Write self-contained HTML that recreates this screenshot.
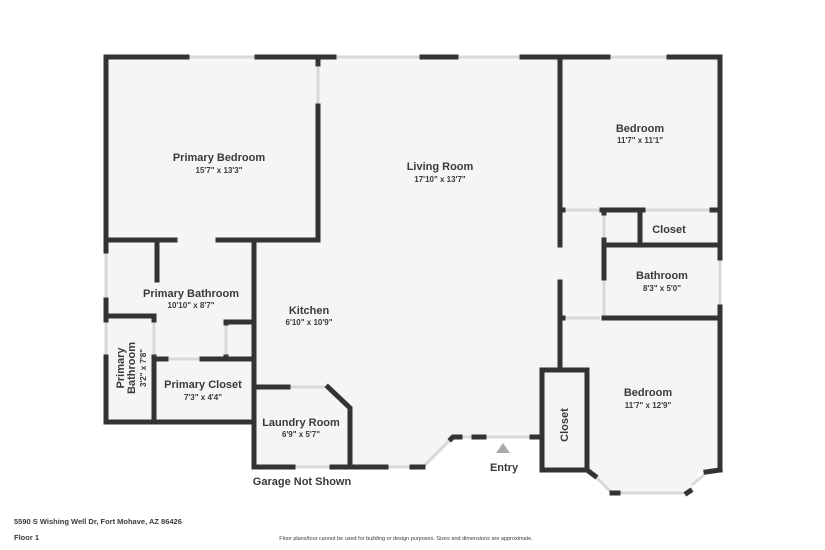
<!DOCTYPE html>
<html><head><meta charset="utf-8"><style>
html,body{margin:0;padding:0;background:#fff;}
svg{display:block;}
text{font-family:"Liberation Sans",sans-serif;fill:#3a3a3a;}
.n{font-size:11px;font-weight:bold;}
.d{font-size:8px;font-weight:bold;}
</style></head><body>
<svg width="825" height="550" viewBox="0 0 825 550" xmlns="http://www.w3.org/2000/svg">
<rect width="825" height="550" fill="#fff"/>
<polygon points="106,57 720,57 720,470 700,472 690,493 612,493 590,470 542,470 542,437 453,437 425,467 254,467 254,422 106,422" fill="#f5f5f5"/>
<!-- openings / windows light -->
<g stroke="#d8d8d8" stroke-width="3" fill="none">
<line x1="187" y1="57" x2="257" y2="57"/>
<line x1="334" y1="57" x2="422" y2="57"/>
<line x1="456" y1="57" x2="522" y2="57"/>
<line x1="608" y1="57" x2="669" y2="57"/>
<line x1="318" y1="67" x2="318" y2="104"/>
<line x1="106" y1="253" x2="106" y2="298"/>
<line x1="106" y1="322" x2="106" y2="355"/>
<line x1="154" y1="322" x2="154" y2="355"/>
<line x1="168" y1="359" x2="200" y2="359"/>
<line x1="226" y1="325" x2="226" y2="355"/>
<line x1="290" y1="387" x2="325" y2="387"/>
<line x1="295" y1="467" x2="330" y2="467"/>
<line x1="388" y1="467" x2="410" y2="467"/>
<line x1="425" y1="465" x2="450" y2="440"/>
<line x1="462" y1="437" x2="472" y2="437"/>
<line x1="486" y1="437" x2="530" y2="437"/>
<line x1="587" y1="388" x2="587" y2="465"/>
<line x1="597" y1="478" x2="610" y2="491"/>
<line x1="620" y1="493" x2="685" y2="493"/>
<line x1="692" y1="485" x2="704" y2="475"/>
<line x1="565" y1="210" x2="600" y2="210"/>
<line x1="645" y1="210" x2="710" y2="210"/>
<line x1="604" y1="215" x2="604" y2="238"/>
<line x1="604" y1="280" x2="604" y2="318"/>
<line x1="565" y1="318" x2="600" y2="318"/>
<line x1="720" y1="260" x2="720" y2="305"/>
</g>
<!-- walls -->
<g stroke="#333" stroke-width="5" fill="none" stroke-linecap="square">
<line x1="106" y1="57" x2="187" y2="57"/>
<line x1="257" y1="57" x2="334" y2="57"/>
<line x1="422" y1="57" x2="456" y2="57"/>
<line x1="522" y1="57" x2="608" y2="57"/>
<line x1="669" y1="57" x2="720" y2="57"/>
<line x1="720" y1="57" x2="720" y2="258"/>
<line x1="720" y1="307" x2="720" y2="470"/>
<line x1="106" y1="57" x2="106" y2="251"/>
<line x1="106" y1="300" x2="106" y2="320"/>
<line x1="106" y1="357" x2="106" y2="422"/>
<line x1="318" y1="57" x2="318" y2="64"/>
<line x1="318" y1="106" x2="318" y2="240"/>
<line x1="106" y1="240" x2="175" y2="240"/>
<line x1="218" y1="240" x2="318" y2="240"/>
<line x1="157" y1="240" x2="157" y2="280"/>
<line x1="254" y1="240" x2="254" y2="467"/>
<line x1="106" y1="316" x2="154" y2="316"/>
<line x1="154" y1="316" x2="154" y2="320"/>
<line x1="154" y1="357" x2="154" y2="422"/>
<line x1="154" y1="359" x2="166" y2="359"/>
<line x1="202" y1="359" x2="254" y2="359"/>
<line x1="226" y1="322" x2="254" y2="322"/>
<line x1="226" y1="322" x2="226" y2="323"/>
<line x1="226" y1="357" x2="226" y2="359"/>
<line x1="106" y1="422" x2="254" y2="422"/>
<line x1="254" y1="387" x2="288" y2="387"/>
<polyline points="328,387 350,408 350,467"/>
<line x1="254" y1="467" x2="293" y2="467"/>
<line x1="332" y1="467" x2="386" y2="467"/>
<line x1="412" y1="467" x2="423" y2="467"/>
<polyline points="451,439 453,437 460,437"/>
<line x1="474" y1="437" x2="484" y2="437"/>
<line x1="532" y1="437" x2="542" y2="437"/>
<polygon points="542,370 587,370 587,470 542,470"/>
<line x1="587" y1="470" x2="595" y2="476"/>
<line x1="612" y1="493" x2="618" y2="493"/>
<line x1="687" y1="493" x2="690" y2="491"/>
<line x1="706" y1="472" x2="720" y2="470"/>
<line x1="560" y1="57" x2="560" y2="245"/>
<line x1="560" y1="282" x2="560" y2="370"/>
<line x1="560" y1="210" x2="563" y2="210"/>
<line x1="602" y1="210" x2="643" y2="210"/>
<line x1="712" y1="210" x2="720" y2="210"/>
<line x1="640" y1="210" x2="640" y2="245"/>
<line x1="604" y1="245" x2="720" y2="245"/>
<line x1="604" y1="210" x2="604" y2="213"/>
<line x1="604" y1="240" x2="604" y2="278"/>
<line x1="560" y1="318" x2="563" y2="318"/>
<line x1="604" y1="318" x2="720" y2="318"/>
</g>
<polygon points="503,443 496,453 510,453" fill="#aaa"/>
<g text-anchor="middle">
<text class="n" x="219" y="161">Primary Bedroom</text>
<text class="d" x="219" y="173">15'7" x 13'3"</text>
<text class="n" x="440" y="170">Living Room</text>
<text class="d" x="440" y="182">17'10" x 13'7"</text>
<text class="n" x="640" y="132">Bedroom</text>
<text class="d" x="640" y="143">11'7" x 11'1"</text>
<text class="n" x="669" y="233">Closet</text>
<text class="n" x="662" y="279">Bathroom</text>
<text class="d" x="662" y="291">8'3" x 5'0"</text>
<text class="n" x="191" y="297">Primary Bathroom</text>
<text class="d" x="191" y="308">10'10" x 8'7"</text>
<text class="n" x="309" y="314">Kitchen</text>
<text class="d" x="309" y="325">6'10" x 10'9"</text>
<text class="n" x="203" y="388">Primary Closet</text>
<text class="d" x="203" y="400">7'3" x 4'4"</text>
<text class="n" x="301" y="426">Laundry Room</text>
<text class="d" x="301" y="437">6'9" x 5'7"</text>
<text class="n" x="648" y="396">Bedroom</text>
<text class="d" x="648" y="408">11'7" x 12'9"</text>
<text class="n" x="504" y="471">Entry</text>
<text class="n" x="302" y="485">Garage Not Shown</text>
<text class="n" transform="translate(568,425) rotate(-90)">Closet</text>
<text class="n" transform="translate(124,368) rotate(-90)">Primary</text>
<text class="n" transform="translate(135,368) rotate(-90)">Bathroom</text>
<text class="d" transform="translate(146,368) rotate(-90)">3'2" x 7'8"</text>
<text style="font-size:5.5px" x="406" y="540">Floor plans/tour cannot be used for building or design purposes. Sizes and dimensions are approximate.</text>
</g>
<text style="font-size:7.5px;font-weight:bold" x="14" y="524">5590 S Wishing Well Dr, Fort Mohave, AZ 86426</text>
<text style="font-size:7.5px;font-weight:bold" x="14" y="540">Floor 1</text>
</svg>
</body></html>
